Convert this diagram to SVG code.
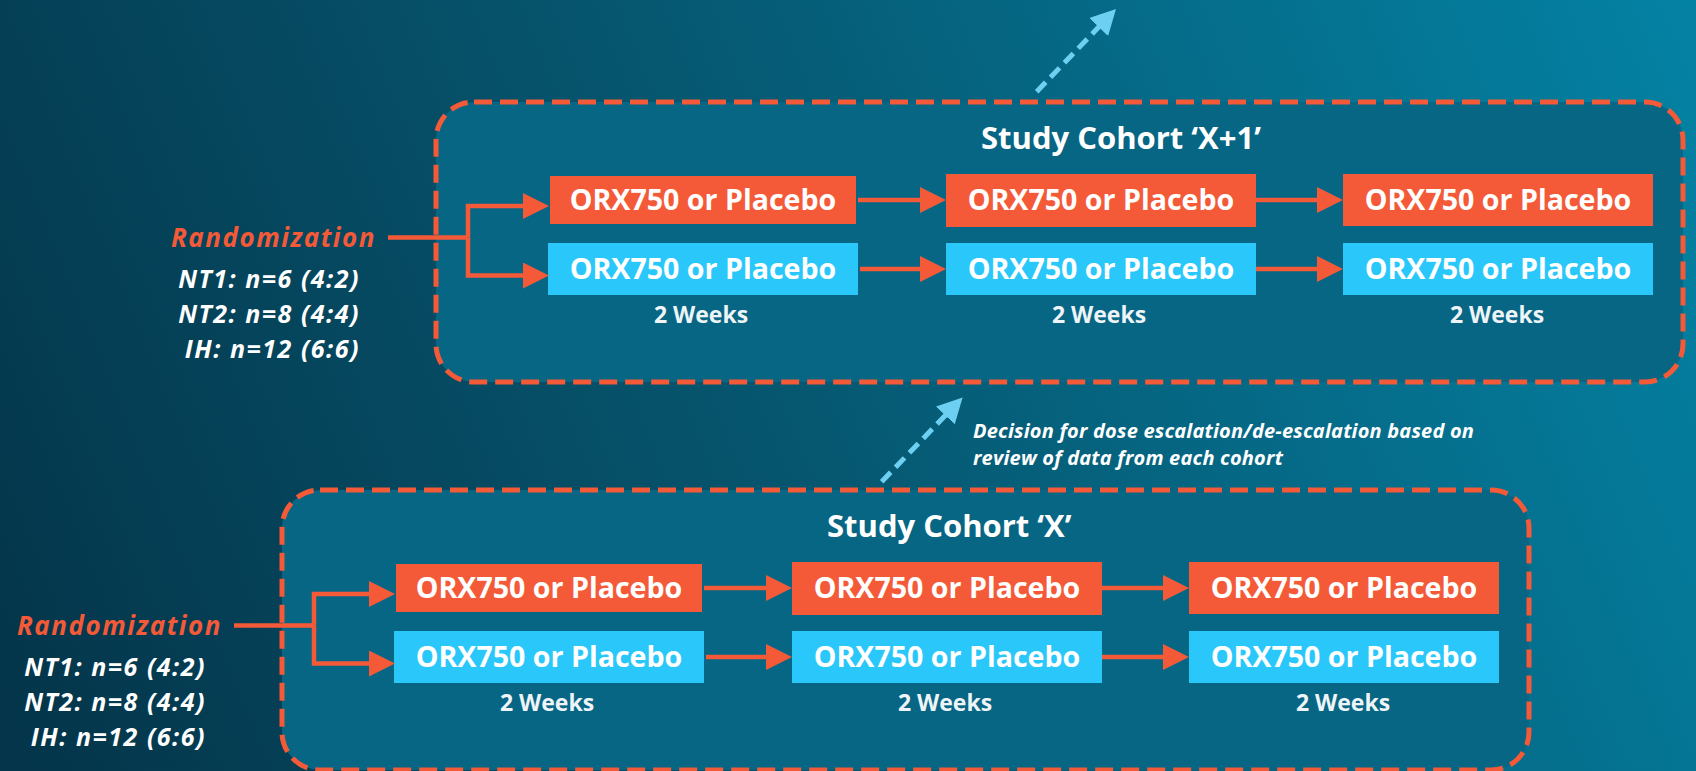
<svg xmlns="http://www.w3.org/2000/svg" width="1696" height="771" viewBox="0 0 1696 771">
  <defs>
    <linearGradient id="bgGrad" gradientUnits="userSpaceOnUse" x1="0" y1="700" x2="1696" y2="0">
      <stop offset="0" stop-color="#04354a"/>
      <stop offset="0.45" stop-color="#06566f"/>
      <stop offset="1" stop-color="#0482a4"/>
    </linearGradient>
    <marker id="arrOr" viewBox="0 0 26 26" refX="1" refY="13" markerWidth="26" markerHeight="26" markerUnits="userSpaceOnUse" orient="auto">
      <path d="M0,0 L26,13 L0,26 Z" fill="#F45A38"/>
    </marker>
    <marker id="arrBl" viewBox="0 0 25 26" refX="1" refY="13" markerWidth="25" markerHeight="26" markerUnits="userSpaceOnUse" orient="auto">
      <path d="M0,0 L25,13 L0,26 Z" fill="#6DD0F3"/>
    </marker>
    <style>
      .cohort { fill: #066684; stroke: #F45A38; stroke-width: 5; stroke-dasharray: 18 8; }
      .or { fill: #F45A38; }
      .bl { fill: #2AC8FA; }
      .txt { font-family: "Open Sans", "Noto Sans", "DejaVu Sans", sans-serif; font-weight: 700; fill: #ffffff; }
      .boxt { font-size: 28.6px; text-anchor: middle; }
      .wk { font-size: 23px; text-anchor: middle; fill: #EEF4F7; }
      .title { font-size: 31px; }
      .rand { font-size: 26px; font-style: italic; letter-spacing: 1.5px; fill: #F45A38; text-anchor: end; }
      .nt { font-size: 25px; font-style: italic; letter-spacing: 1.5px; text-anchor: end; }
      .dec { font-size: 20px; font-style: italic; letter-spacing: 0.2px; }
      .conn { fill: none; stroke: #F45A38; stroke-width: 4.5; stroke-linejoin: miter; }
      .conn-a { marker-end: url(#arrOr); }
      .dash { fill: none; stroke: #6DD0F3; stroke-width: 5; stroke-dasharray: 13 7; marker-end: url(#arrBl); }
    </style>
  </defs>

  <rect x="0" y="0" width="1696" height="771" fill="url(#bgGrad)"/>

  <!-- Cohort X+1 (top) -->
  <g id="cohort-x1">
    <rect id="cohort-x1-frame" class="cohort" x="436" y="102" width="1247" height="280" rx="38" ry="38"/>
    <text id="cohort-x1-title" class="txt title" x="981" y="149">Study Cohort ‘X+1’</text>
    <g id="x1-rand">
      <text class="txt rand" x="376" y="247">Randomization</text>
      <text class="txt nt" x="360" y="288">NT1: n=6 (4:2)</text>
      <text class="txt nt" x="360" y="323">NT2: n=8 (4:4)</text>
      <text class="txt nt" x="360" y="358">IH: n=12 (6:6)</text>
    </g>
    <g id="x1-o1"><rect class="or" x="550" y="176" width="306" height="48"/><text class="txt boxt" x="703" y="210">ORX750 or Placebo</text></g>
    <g id="x1-o2"><rect class="or" x="946" y="174" width="310" height="53"/><text class="txt boxt" x="1101" y="210">ORX750 or Placebo</text></g>
    <g id="x1-o3"><rect class="or" x="1343" y="174" width="310" height="52"/><text class="txt boxt" x="1498" y="210">ORX750 or Placebo</text></g>
    <g id="x1-b1"><rect class="bl" x="548" y="243" width="310" height="52"/><text class="txt boxt" x="703" y="279">ORX750 or Placebo</text></g>
    <g id="x1-b2"><rect class="bl" x="946" y="243" width="310" height="52"/><text class="txt boxt" x="1101" y="279">ORX750 or Placebo</text></g>
    <g id="x1-b3"><rect class="bl" x="1343" y="243" width="310" height="52"/><text class="txt boxt" x="1498" y="279">ORX750 or Placebo</text></g>
    <g id="x1-weeks">
      <text class="txt wk" x="701" y="323">2 Weeks</text>
      <text class="txt wk" x="1099" y="323">2 Weeks</text>
      <text class="txt wk" x="1497" y="323">2 Weeks</text>
    </g>
  </g>

  <!-- Cohort X (bottom) -->
  <g id="cohort-x" transform="translate(-154,388)">
    <rect id="cohort-x-frame" class="cohort" x="436" y="102" width="1247" height="280" rx="38" ry="38"/>
    <text id="cohort-x-title" class="txt title" x="981" y="149">Study Cohort ‘X’</text>
    <g id="x-rand">
      <text class="txt rand" x="376" y="247">Randomization</text>
      <text class="txt nt" x="360" y="288">NT1: n=6 (4:2)</text>
      <text class="txt nt" x="360" y="323">NT2: n=8 (4:4)</text>
      <text class="txt nt" x="360" y="358">IH: n=12 (6:6)</text>
    </g>
    <g id="x-o1"><rect class="or" x="550" y="176" width="306" height="48"/><text class="txt boxt" x="703" y="210">ORX750 or Placebo</text></g>
    <g id="x-o2"><rect class="or" x="946" y="174" width="310" height="53"/><text class="txt boxt" x="1101" y="210">ORX750 or Placebo</text></g>
    <g id="x-o3"><rect class="or" x="1343" y="174" width="310" height="52"/><text class="txt boxt" x="1498" y="210">ORX750 or Placebo</text></g>
    <g id="x-b1"><rect class="bl" x="548" y="243" width="310" height="52"/><text class="txt boxt" x="703" y="279">ORX750 or Placebo</text></g>
    <g id="x-b2"><rect class="bl" x="946" y="243" width="310" height="52"/><text class="txt boxt" x="1101" y="279">ORX750 or Placebo</text></g>
    <g id="x-b3"><rect class="bl" x="1343" y="243" width="310" height="52"/><text class="txt boxt" x="1498" y="279">ORX750 or Placebo</text></g>
    <g id="x-weeks">
      <text class="txt wk" x="701" y="323">2 Weeks</text>
      <text class="txt wk" x="1099" y="323">2 Weeks</text>
      <text class="txt wk" x="1497" y="323">2 Weeks</text>
    </g>
  </g>

  <g id="decision-note">
    <text class="txt dec" x="973" y="438">Decision for dose escalation/de-escalation based on</text>
    <text class="txt dec" x="973" y="465">review of data from each cohort</text>
  </g>

  <!-- Connectors -->
  <g id="connectors">
    <g id="connectors-x1">
      <path class="conn" d="M388,237.5 H468"/>
      <path class="conn conn-a" d="M468,237.5 V206 H524"/>
      <path class="conn conn-a" d="M468,237.5 V275.5 H524"/>
      <path class="conn conn-a" d="M858,200 H921"/>
      <path class="conn conn-a" d="M860,269 H921"/>
      <path class="conn conn-a" d="M1256,200 H1318"/>
      <path class="conn conn-a" d="M1256,269 H1318"/>
    </g>
    <g id="connectors-x" transform="translate(-154,388)">
      <path class="conn" d="M388,237.5 H468"/>
      <path class="conn conn-a" d="M468,237.5 V206 H524"/>
      <path class="conn conn-a" d="M468,237.5 V275.5 H524"/>
      <path class="conn conn-a" d="M858,200 H921"/>
      <path class="conn conn-a" d="M860,269 H921"/>
      <path class="conn conn-a" d="M1256,200 H1318"/>
      <path class="conn conn-a" d="M1256,269 H1318"/>
    </g>
    <path id="arrow-next" class="dash" d="M1036.7,91.7 L1099.4,26.3"/>
    <path id="arrow-escalate" class="dash" d="M881.7,481.7 L946,414.7"/>
  </g>
</svg>
